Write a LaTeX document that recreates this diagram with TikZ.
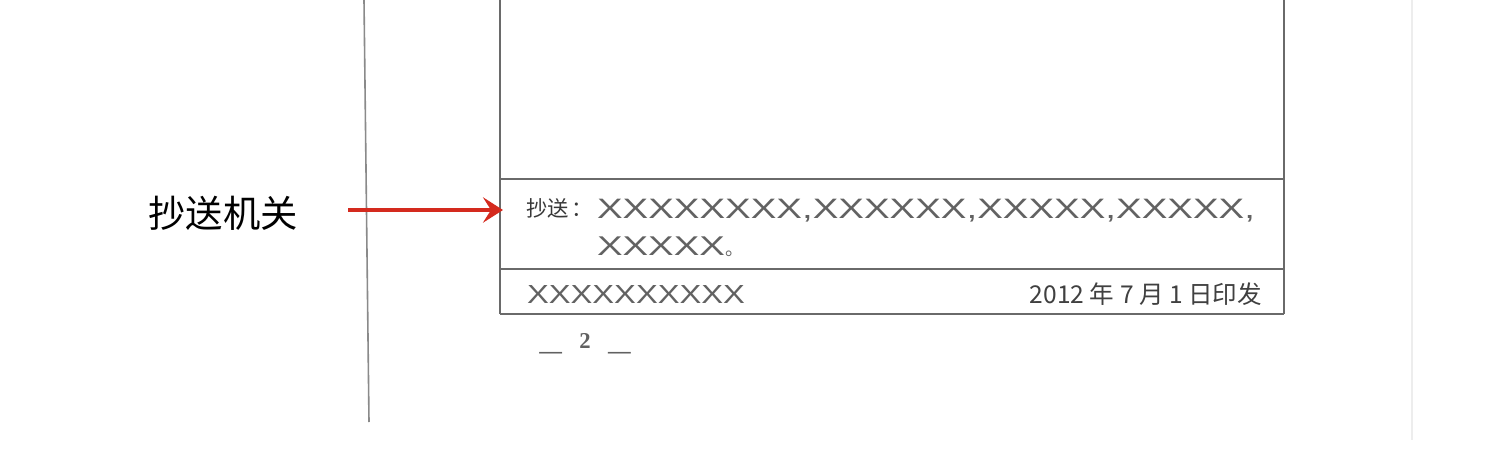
\documentclass[tikz,border=0pt]{standalone}
\usepackage{fontspec}
\usepackage{graphicx}
\setmainfont{Liberation Serif}
\newfontfamily\cjk{Noto Sans CJK SC}
\newfontfamily\xfont{Liberation Sans}
\usetikzlibrary{arrows.meta}
\definecolor{rulegray}{HTML}{6A6A6A}
\definecolor{pagegray}{HTML}{8A8A8A}
\definecolor{arrowred}{HTML}{D42A1E}
\definecolor{textgray}{HTML}{454545}
\definecolor{xgray}{HTML}{626262}
\tikzset{
  boxrule/.style={draw=rulegray, line width=1.1pt},
  hrule/.style={draw=rulegray, line width=1.7pt},
  txt/.style={inner sep=0pt, outer sep=0pt, text=textgray},
  xtxt/.style={inner sep=0pt, outer sep=0pt, text=xgray},
  redarrow/.style={draw=arrowred, line width=3pt, -{Stealth[length=15pt,width=19pt,inset=6pt]}}
}
\begin{document}
\begin{tikzpicture}[x=0.75pt,y=-0.75pt]
\useasboundingbox (0,0) rectangle (1485,453);
\fill[white] (0,0) rectangle (1485,453);
% page edge and faint scan line
\draw[draw=pagegray, line width=1.2pt] (364,0) -- (369,422);
\draw[draw=black!7, line width=1pt] (1412,0) -- (1412,440);
% box
\draw[boxrule] (500,0) -- (500,314);
\draw[boxrule] (1284,0) -- (1284,314);
\draw[hrule] (500,179) -- (1284,179);
\draw[hrule] (500,269) -- (1284,269);
\draw[hrule] (500,314) -- (1284,314);
% texts in box
\node[txt, anchor=west, text=black!78] (cslabel) at (526,208) {\cjk\fontsize{16pt}{16pt}\selectfont 抄送\hspace{2pt}：};
\node[xtxt, anchor=base west] (cc1) at (597,218) {\resizebox{493.5pt}{14.5pt}{\xfont XXXXXXXX,XXXXXX,XXXXX,XXXXX,}};
\node[xtxt, anchor=base west] (cc2) at (597,255) {\resizebox{96pt}{14pt}{\xfont XXXXX}{\cjk\fontsize{14pt}{14pt}\selectfont 。}};
\node[xtxt, anchor=base west] (issuer) at (527,303) {\resizebox{163.5pt}{13.5pt}{\xfont XXXXXXXXXX}};
\node[txt, anchor=base east, text=black!75] (date) at (1262,303) {\resizebox{174pt}{!}{\cjk\fontsize{16pt}{16pt}\selectfont 2012 年 7 月 1 日印发}};
% page number
\node[txt, anchor=base, text=textgray!85] (pagenum) at (585,358) {\fontsize{17pt}{17pt}\selectfont\bfseries —\hspace{13pt}\raisebox{7pt}{2}\hspace{13pt}—};
% label and arrow
\node[inner sep=0pt] (label) at (223,213) {\cjk\fontsize{28pt}{28pt}\selectfont 抄送机关};
\coordinate (tail) at (348,210);
\coordinate (tip) at (503,210);
\draw[redarrow] (tail) -- (tip);
\end{tikzpicture}
\end{document}
